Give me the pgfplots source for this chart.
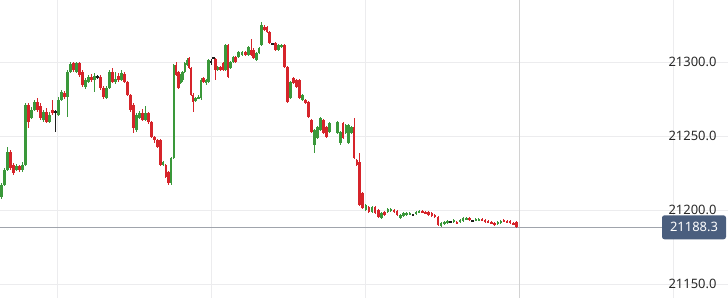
\documentclass[border=0pt]{standalone}
\usepackage{fontspec}
\setmainfont{Noto Sans}
\usepackage{pgfplots}
\usepackage{pgfplotstable}
\pgfplotsset{compat=1.18}
\definecolor{cgreen}{RGB}{58,152,58}
\definecolor{cred}{RGB}{214,36,42}
\definecolor{cblack}{RGB}{30,30,30}
\definecolor{gridc}{RGB}{236,236,238}
\definecolor{boxc}{RGB}{74,94,126}
\definecolor{pricel}{RGB}{160,164,172}
\definecolor{labelc}{RGB}{40,40,40}
\pgfplotstableread{
x o h l c
1.5 21208.8 21218.2 21207.4 21216.9
4.5 21216.9 21228.4 21216.2 21227.0
7.5 21227.0 21242.6 21226.3 21239.2
10.5 21239.2 21240.5 21227.0 21228.4
13.5 21230.4 21231.8 21223.6 21225.0
16.5 21227.0 21231.1 21226.3 21229.7
19.5 21229.7 21230.4 21225.7 21227.0
22.5 21227.0 21232.4 21225.7 21230.4
25.5 21230.4 21272.3 21229.7 21270.9
28.5 21270.9 21272.3 21255.4 21259.5
31.5 21262.2 21269.6 21261.5 21267.6
34.5 21267.6 21274.3 21266.9 21273.0
37.5 21273.0 21275.7 21266.2 21267.6
40.5 21270.3 21272.3 21260.8 21262.2
43.5 21260.8 21267.6 21259.5 21266.2
46.5 21266.2 21268.9 21258.8 21259.5
49.5 21259.5 21266.2 21258.8 21264.2
52.5 21267.6 21274.3 21264.2 21265.5
55.5 21266.2 21267.6 21252.7 21266.2
58.5 21264.2 21276.4 21263.5 21274.3
61.5 21274.3 21281.1 21273.6 21279.7
64.5 21279.1 21280.4 21275.0 21276.4
67.5 21276.4 21294.6 21262.8 21293.2
70.5 21293.2 21300.0 21292.6 21298.6
73.5 21299.3 21300.0 21293.2 21294.6
76.5 21293.2 21300.0 21292.6 21299.3
79.5 21299.3 21300.0 21289.9 21291.2
82.5 21293.2 21294.6 21283.1 21284.5
85.5 21283.1 21289.2 21281.8 21287.8
88.5 21286.5 21291.2 21285.8 21289.9
91.5 21289.9 21291.9 21286.5 21287.8
94.5 21287.8 21292.6 21279.7 21290.5
97.5 21289.9 21291.2 21288.5 21289.9
100.5 21289.9 21291.2 21281.1 21282.4
103.5 21282.4 21283.8 21275.0 21276.4
106.5 21275.7 21283.8 21275.0 21282.4
109.5 21282.4 21294.6 21281.8 21293.2
112.5 21293.2 21295.9 21285.8 21286.5
115.5 21286.5 21293.2 21285.1 21288.5
118.5 21290.5 21292.6 21286.5 21287.8
121.5 21287.8 21294.6 21287.1 21292.6
124.5 21291.9 21293.2 21285.8 21286.5
127.5 21286.5 21287.1 21277.0 21277.7
130.5 21277.7 21278.4 21266.2 21267.6
133.5 21270.9 21272.3 21252.0 21255.4
136.5 21254.1 21265.5 21252.7 21264.2
139.5 21262.2 21266.9 21261.5 21265.5
142.5 21265.5 21268.2 21260.1 21260.8
145.5 21260.8 21270.3 21260.1 21265.5
148.5 21265.5 21266.2 21258.1 21259.5
151.5 21259.5 21260.1 21248.6 21249.3
154.5 21249.3 21250.0 21245.3 21247.3
157.5 21247.3 21248.0 21241.9 21242.6
160.3 21247.3 21248.0 21229.7 21230.4
163.0 21230.4 21233.1 21229.7 21232.4
165.7 21230.4 21231.1 21221.6 21222.3
168.4 21225.7 21226.3 21216.9 21218.2
171.1 21218.2 21235.8 21216.9 21235.1
173.7 21235.1 21298.6 21234.5 21298.0
176.2 21298.0 21300.0 21290.5 21291.2
178.5 21293.2 21293.9 21281.8 21282.4
180.5 21285.8 21291.9 21285.1 21291.2
182.5 21287.8 21293.9 21286.5 21293.2
184.8 21293.2 21300.0 21292.6 21299.3
187.0 21298.0 21302.7 21297.3 21301.4
189.0 21302.7 21303.4 21295.3 21295.9
191.0 21295.9 21296.6 21277.0 21277.7
193.0 21277.7 21279.1 21266.2 21273.0
195.5 21273.6 21276.4 21273.0 21275.7
198.5 21275.7 21277.7 21275.0 21276.4
201.0 21275.7 21289.2 21274.3 21287.8
203.5 21289.2 21289.9 21285.8 21286.5
206.0 21285.8 21288.5 21284.5 21287.8
208.5 21286.5 21302.0 21285.8 21301.4
211.0 21300.0 21302.0 21298.0 21300.0
213.5 21302.7 21303.4 21302.0 21302.7
215.5 21302.0 21302.7 21287.8 21294.6
217.5 21294.6 21297.3 21293.9 21296.6
220.5 21296.6 21297.3 21293.9 21294.6
223.0 21299.3 21300.0 21293.9 21294.6
225.5 21294.6 21312.2 21293.9 21311.5
228.0 21311.5 21312.2 21289.2 21289.9
230.5 21295.9 21300.7 21295.3 21300.0
233.0 21300.0 21304.1 21299.3 21303.4
235.5 21303.4 21304.1 21299.3 21300.0
238.5 21303.4 21307.4 21302.7 21306.8
242.0 21304.7 21307.4 21304.1 21306.8
245.5 21306.8 21307.4 21304.1 21304.7
248.5 21304.7 21310.8 21304.1 21310.1
251.0 21308.1 21315.5 21304.1 21304.7
253.5 21308.1 21309.5 21302.0 21302.7
256.5 21301.4 21306.8 21300.7 21306.1
259.0 21306.1 21310.1 21305.4 21309.5
261.5 21311.5 21327.0 21310.8 21325.0
264.5 21323.6 21325.0 21320.9 21321.6
267.0 21323.6 21324.3 21319.6 21320.3
269.5 21320.3 21320.9 21312.2 21312.8
272.5 21312.2 21312.8 21311.5 21312.2
275.5 21312.8 21313.5 21307.4 21308.1
278.5 21308.1 21312.2 21307.4 21311.5
281.5 21310.1 21312.2 21309.5 21311.5
284.5 21311.5 21312.2 21295.9 21296.6
287.5 21296.6 21297.3 21272.3 21273.0
290.5 21275.7 21287.2 21275.0 21286.5
293.5 21289.2 21289.9 21285.1 21285.8
296.5 21287.8 21288.5 21282.4 21283.1
299.5 21287.8 21288.5 21275.0 21275.7
302.5 21274.3 21278.4 21273.6 21277.7
305.5 21274.3 21275.0 21271.6 21272.3
308.5 21273.0 21273.6 21262.2 21262.8
311.5 21260.8 21261.5 21252.0 21252.7
314.5 21243.9 21254.7 21238.5 21254.1
317.5 21248.6 21256.8 21248.0 21256.1
320.5 21254.1 21262.8 21253.4 21262.2
323.5 21260.8 21261.5 21251.4 21252.0
326.5 21256.1 21256.8 21248.6 21249.3
329.5 21252.7 21259.5 21252.0 21258.8
337.5 21252.0 21260.1 21251.4 21259.5
340.3 21245.3 21253.4 21243.9 21252.7
343.0 21258.8 21259.5 21248.0 21248.6
345.8 21252.0 21258.1 21251.4 21257.4
348.5 21245.3 21258.1 21244.6 21257.4
351.3 21252.0 21256.8 21251.4 21256.1
354.0 21256.1 21262.2 21234.5 21235.1
356.8 21233.8 21234.5 21229.7 21230.4
359.5 21232.4 21238.5 21202.7 21203.4
362.6 21211.5 21212.2 21200.7 21201.4
365.8 21200.0 21204.1 21199.3 21203.4
368.9 21202.0 21202.7 21198.0 21198.6
372.1 21198.6 21202.7 21198.0 21202.0
375.2 21202.0 21202.7 21197.3 21198.0
378.3 21200.0 21200.7 21194.6 21195.3
381.5 21194.6 21198.6 21193.9 21198.0
384.6 21198.6 21199.3 21195.9 21196.6
387.8 21198.6 21201.4 21198.0 21200.7
390.9 21199.3 21201.4 21198.6 21200.7
394.0 21200.0 21200.7 21198.0 21198.6
397.2 21199.3 21200.0 21195.9 21196.6
400.3 21194.6 21197.3 21193.9 21196.6
403.5 21195.9 21198.6 21195.3 21198.0
406.6 21196.6 21198.6 21195.9 21198.0
409.7 21197.3 21198.6 21196.6 21198.0
412.9 21196.6 21197.3 21195.9 21196.6
416.0 21197.3 21199.3 21196.6 21198.6
419.2 21198.6 21200.0 21198.0 21199.3
422.3 21199.3 21200.0 21198.0 21198.6
425.4 21198.6 21199.3 21197.3 21198.0
428.6 21198.6 21199.3 21195.9 21196.6
431.7 21198.0 21198.6 21195.3 21195.9
434.9 21196.6 21197.3 21194.6 21195.3
438.0 21195.3 21195.9 21189.2 21189.9
441.1 21189.2 21191.9 21188.5 21191.2
444.3 21190.5 21192.6 21189.9 21191.9
447.4 21191.2 21193.2 21190.5 21192.6
450.6 21191.9 21192.6 21191.2 21191.9
453.7 21191.9 21193.9 21191.2 21193.2
456.8 21191.9 21192.6 21190.5 21191.2
460.0 21191.9 21193.9 21191.2 21193.2
463.1 21192.6 21195.3 21191.9 21194.6
466.3 21193.9 21195.3 21193.2 21194.6
469.4 21194.6 21195.3 21192.6 21193.2
472.5 21192.6 21193.2 21191.9 21192.6
475.7 21193.2 21194.6 21192.6 21193.9
478.8 21193.2 21194.6 21192.6 21193.9
482.0 21193.9 21194.6 21192.6 21193.2
485.1 21193.2 21193.9 21191.2 21191.9
488.2 21192.6 21193.2 21191.2 21191.9
491.4 21191.9 21192.6 21190.5 21191.2
494.5 21191.2 21191.9 21189.2 21189.9
497.7 21190.5 21192.6 21189.9 21191.9
500.8 21191.2 21193.2 21190.5 21192.6
503.9 21193.2 21193.9 21191.9 21192.6
507.1 21192.6 21193.2 21191.2 21191.9
510.2 21192.6 21193.2 21190.5 21191.2
513.4 21191.2 21191.9 21189.9 21190.5
516.5 21191.9 21192.6 21187.8 21188.3
}\candles
\pgfplotsset{
  wick/.style={only marks, mark=*, mark size=0pt,
    mark options={draw opacity=0, fill opacity=0}, forget plot,
    restrict y to domain=21000:21500,
    error bars/.cd, y dir=both, y explicit, error mark=none,
    error bar style={line width=0.9bp, draw=#1, draw opacity=1}},
  body/.style={only marks, mark=*, mark size=0pt,
    mark options={draw opacity=0, fill opacity=0}, forget plot,
    restrict y to domain=21000:21500,
    error bars/.cd, y dir=both, y explicit, error mark=none,
    error bar style={line width=2.4bp, draw=#1, draw opacity=1}},
}
\begin{document}
\begin{tikzpicture}
\begin{axis}[
  scale only axis, width=728bp, height=298bp,
  xmin=0, xmax=728, ymin=21140.54, ymax=21341.89,
  axis line style={draw=none}, major tick length=0pt,
  xtick={57,211,365,673}, xticklabels={},
  ytick={21150,21200,21250,21300},
  scaled y ticks=false,
  yticklabel pos=right,
  yticklabel style={anchor=east, xshift=-8bp, text=labelc,
    font=\fontsize{13}{15}\selectfont,
    /pgf/number format/assume math mode=true,
    /pgf/number format/fixed, /pgf/number format/fixed zerofill,
    /pgf/number format/precision=1, /pgf/number format/1000 sep={}},
  grid=major, major grid style={color=gridc, line width=0.9bp},
  clip=true,
]
\draw[color=gray!35, line width=0.9bp] (axis cs:519,21140.54) -- (axis cs:519,21341.89);
\draw[color=pricel, line width=0.9bp] (axis cs:0,21188.3) -- (axis cs:662,21188.3);
% green candles (close above open)
\addplot[wick=cgreen] table[x=x, y expr={\thisrow{c}-\thisrow{o}>0.05 ? (\thisrow{h}+\thisrow{l})/2 : 0}, y error expr={(\thisrow{h}-\thisrow{l})/2}] {\candles};
\addplot[body=cgreen] table[x=x, y expr={\thisrow{c}-\thisrow{o}>0.05 ? (\thisrow{o}+\thisrow{c})/2 : 0}, y error expr={max(abs(\thisrow{c}-\thisrow{o})/2,0.55)}] {\candles};
% red candles (close below open)
\addplot[wick=cred] table[x=x, y expr={\thisrow{o}-\thisrow{c}>0.05 ? (\thisrow{h}+\thisrow{l})/2 : 0}, y error expr={(\thisrow{h}-\thisrow{l})/2}] {\candles};
\addplot[body=cred] table[x=x, y expr={\thisrow{o}-\thisrow{c}>0.05 ? (\thisrow{o}+\thisrow{c})/2 : 0}, y error expr={max(abs(\thisrow{c}-\thisrow{o})/2,0.55)}] {\candles};
% neutral candles (close equal to open)
\addplot[wick=cblack] table[x=x, y expr={abs(\thisrow{c}-\thisrow{o})<0.05 ? (\thisrow{h}+\thisrow{l})/2 : 0}, y error expr={(\thisrow{h}-\thisrow{l})/2}] {\candles};
\addplot[body=cblack] table[x=x, y expr={abs(\thisrow{c}-\thisrow{o})<0.05 ? (\thisrow{o}+\thisrow{c})/2 : 0}, y error expr={0.5}] {\candles};
\node[fill=boxc, text=white, rounded corners=2.5bp, minimum width=64bp, minimum height=24bp, inner sep=0pt, font=\fontsize{13}{15}\selectfont] at (axis cs:694,21188.3) {21188.3};
\end{axis}
\pgfresetboundingbox
\useasboundingbox (current axis.south west) rectangle (current axis.north east);
\end{tikzpicture}
\end{document}
